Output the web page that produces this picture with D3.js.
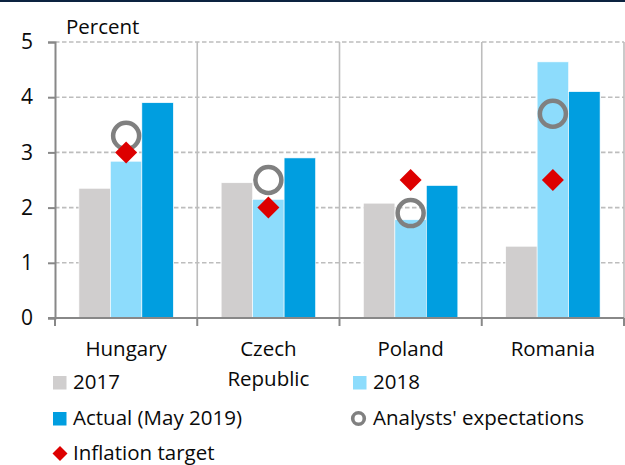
<!DOCTYPE html>
<html>
<head>
<meta charset="utf-8">
<script src="https://cdn.jsdelivr.net/npm/d3@7"></script>
<style>
  html, body { margin: 0; padding: 0; background: #fff; }
  svg { display: block; font-family: "Open Sans", "Noto Sans", sans-serif; }
</style>
</head>
<body>
<svg id="chart" width="625" height="465"></svg>
<script>
// Inflation by country: outturns, expectations and central bank targets (percent)
const countries = ["Hungary", "Czech Republic", "Poland", "Romania"];
const countryLines = [["Hungary"], ["Czech", "Republic"], ["Poland"], ["Romania"]];
const barSeries = ["2017", "2018", "Actual (May 2019)"];
const values2017 = [2.35, 2.45, 2.08, 1.3];
const values2018 = [2.84, 2.15, 1.78, 4.64];
const valuesActual = [3.9, 2.9, 2.4, 4.1];
const expectations = [3.3, 2.5, 1.9, 3.7];
const targets = [3.0, 2.0, 2.5, 2.5];
const yTicks = [0, 1, 2, 3, 4, 5];

const barColors = ["#d0cece", "#8ddcfc", "#009ee0"];
const barValues = [values2017, values2018, valuesActual];
const textSize = 20.5;
const textColor = "#0a0a0a";

const svg = d3.select("#chart");

// top rule
svg.append("rect").attr("x", 0).attr("y", 0).attr("width", 625).attr("height", 2).attr("fill", "#0c2340");

const plot = { left: 55, right: 624, top: 42, bottom: 318 };

const y = d3.scaleLinear().domain([0, 5]).range([plot.bottom, plot.top]);
const x0 = d3.scaleBand().domain(countries).range([plot.left, plot.right]).padding(0);
const x1 = d3.scaleBand().domain(barSeries).range([0, x0.bandwidth()]).paddingInner(0).paddingOuter(0.76);

// dashed horizontal gridlines
svg.append("g").selectAll("line")
  .data(yTicks.filter(d => d > 0))
  .join("line")
  .attr("x1", plot.left).attr("x2", plot.right)
  .attr("y1", d => y(d)).attr("y2", d => y(d))
  .attr("stroke", "#bdbdbd").attr("stroke-width", 1.6)
  .attr("stroke-dasharray", "4.5,2.5");

// vertical category separators
svg.append("g").selectAll("line")
  .data(countries.slice(1).map(c => x0(c)).concat([plot.right]))
  .join("line")
  .attr("x1", d => d).attr("x2", d => d)
  .attr("y1", plot.top).attr("y2", plot.bottom)
  .attr("stroke", "#bdbdbd").attr("stroke-width", 1.6);

// bars
const groups = svg.append("g").selectAll("g")
  .data(countries)
  .join("g")
  .attr("transform", c => `translate(${x0(c)},0)`);

groups.selectAll("rect")
  .data((c, i) => barSeries.map((s, k) => ({ s, k, v: barValues[k][i] })))
  .join("rect")
  .attr("x", d => x1(d.s))
  .attr("width", x1.bandwidth())
  .attr("y", d => y(d.v))
  .attr("height", d => y(0) - y(d.v))
  .attr("fill", d => barColors[d.k])
  .attr("stroke", "#fff").attr("stroke-width", 0.6);

const markerX = c => x0(c) + x1("2018") + x1.bandwidth() / 2;

// analysts' expectations (open circles)
svg.append("g").selectAll("circle")
  .data(countries)
  .join("circle")
  .attr("cx", markerX)
  .attr("cy", (c, i) => y(expectations[i]))
  .attr("r", 13)
  .attr("fill", "none")
  .attr("stroke", "#808080").attr("stroke-width", 4.5);

// inflation targets (diamonds)
const diamond = d3.symbol().type(d3.symbolSquare).size(242);
svg.append("g").selectAll("path")
  .data(countries)
  .join("path")
  .attr("d", diamond)
  .attr("transform", (c, i) => `translate(${markerX(c)},${y(targets[i])}) rotate(45)`)
  .attr("fill", "#dd0000");

// y axis
const yAxis = d3.axisLeft(y).tickValues(yTicks).tickFormat(d3.format("d")).tickSize(7).tickPadding(15);
const yg = svg.append("g").attr("transform", `translate(${plot.left},0)`).call(yAxis);
yg.select(".domain").attr("stroke", "#888").attr("stroke-width", 2);
yg.selectAll(".tick line").attr("stroke", "#888").attr("stroke-width", 2);
yg.selectAll(".tick text").attr("font-size", 21).attr("font-family", "'Open Sans', sans-serif").attr("fill", textColor);

// x axis baseline and ticks at category boundaries
const boundaries = countries.map(c => x0(c)).concat([plot.right]);
svg.append("line")
  .attr("x1", plot.left - 7).attr("x2", plot.right)
  .attr("y1", y(0)).attr("y2", y(0))
  .attr("stroke", "#888").attr("stroke-width", 2);
svg.append("g").selectAll("line")
  .data(boundaries)
  .join("line")
  .attr("x1", d => d).attr("x2", d => d)
  .attr("y1", y(0)).attr("y2", y(0) + 8)
  .attr("stroke", "#888").attr("stroke-width", 2);

// category labels
const catLabels = svg.append("g").selectAll("text")
  .data(countries)
  .join("text")
  .attr("x", c => x0(c) + x0.bandwidth() / 2)
  .attr("y", 356)
  .attr("text-anchor", "middle")
  .attr("font-size", textSize)
  .attr("fill", textColor);
catLabels.selectAll("tspan")
  .data((c, i) => countryLines[i])
  .join("tspan")
  .attr("x", function () { return this.parentNode.getAttribute("x"); })
  .attr("dy", (d, j) => j === 0 ? 0 : 30)
  .text(d => d);

// unit label
svg.append("text").attr("x", 66).attr("y", 34).attr("font-size", textSize).attr("fill", textColor).text("Percent");

// legend
const legendItems = [
  { label: "2017", type: "rect", color: barColors[0], x: 53, y: 389 },
  { label: "2018", type: "rect", color: barColors[1], x: 353, y: 389 },
  { label: "Actual (May 2019)", type: "rect", color: barColors[2], x: 53, y: 425 },
  { label: "Analysts' expectations", type: "circle", color: "#808080", x: 353, y: 425 },
  { label: "Inflation target", type: "diamond", color: "#dd0000", x: 53, y: 460 }
];
const lg = svg.append("g").selectAll("g").data(legendItems).join("g");
lg.each(function (d) {
  const g = d3.select(this);
  const cx = d.x + 7, cy = d.y - 6.5;
  if (d.type === "rect") {
    g.append("rect").attr("x", d.x).attr("y", d.y - 13).attr("width", 13.5).attr("height", 13.5).attr("fill", d.color);
  } else if (d.type === "circle") {
    g.append("circle").attr("cx", d.x + 5.5).attr("cy", cy).attr("r", 5.8).attr("fill", "none").attr("stroke", d.color).attr("stroke-width", 3.6);
  } else {
    g.append("path").attr("d", d3.symbol().type(d3.symbolSquare).size(112))
      .attr("transform", `translate(${cx},${cy}) rotate(45)`).attr("fill", d.color);
  }
  g.append("text").attr("x", d.x + 20).attr("y", d.y).attr("font-size", textSize).attr("fill", textColor).text(d.label);
});
</script>
</body>
</html>
